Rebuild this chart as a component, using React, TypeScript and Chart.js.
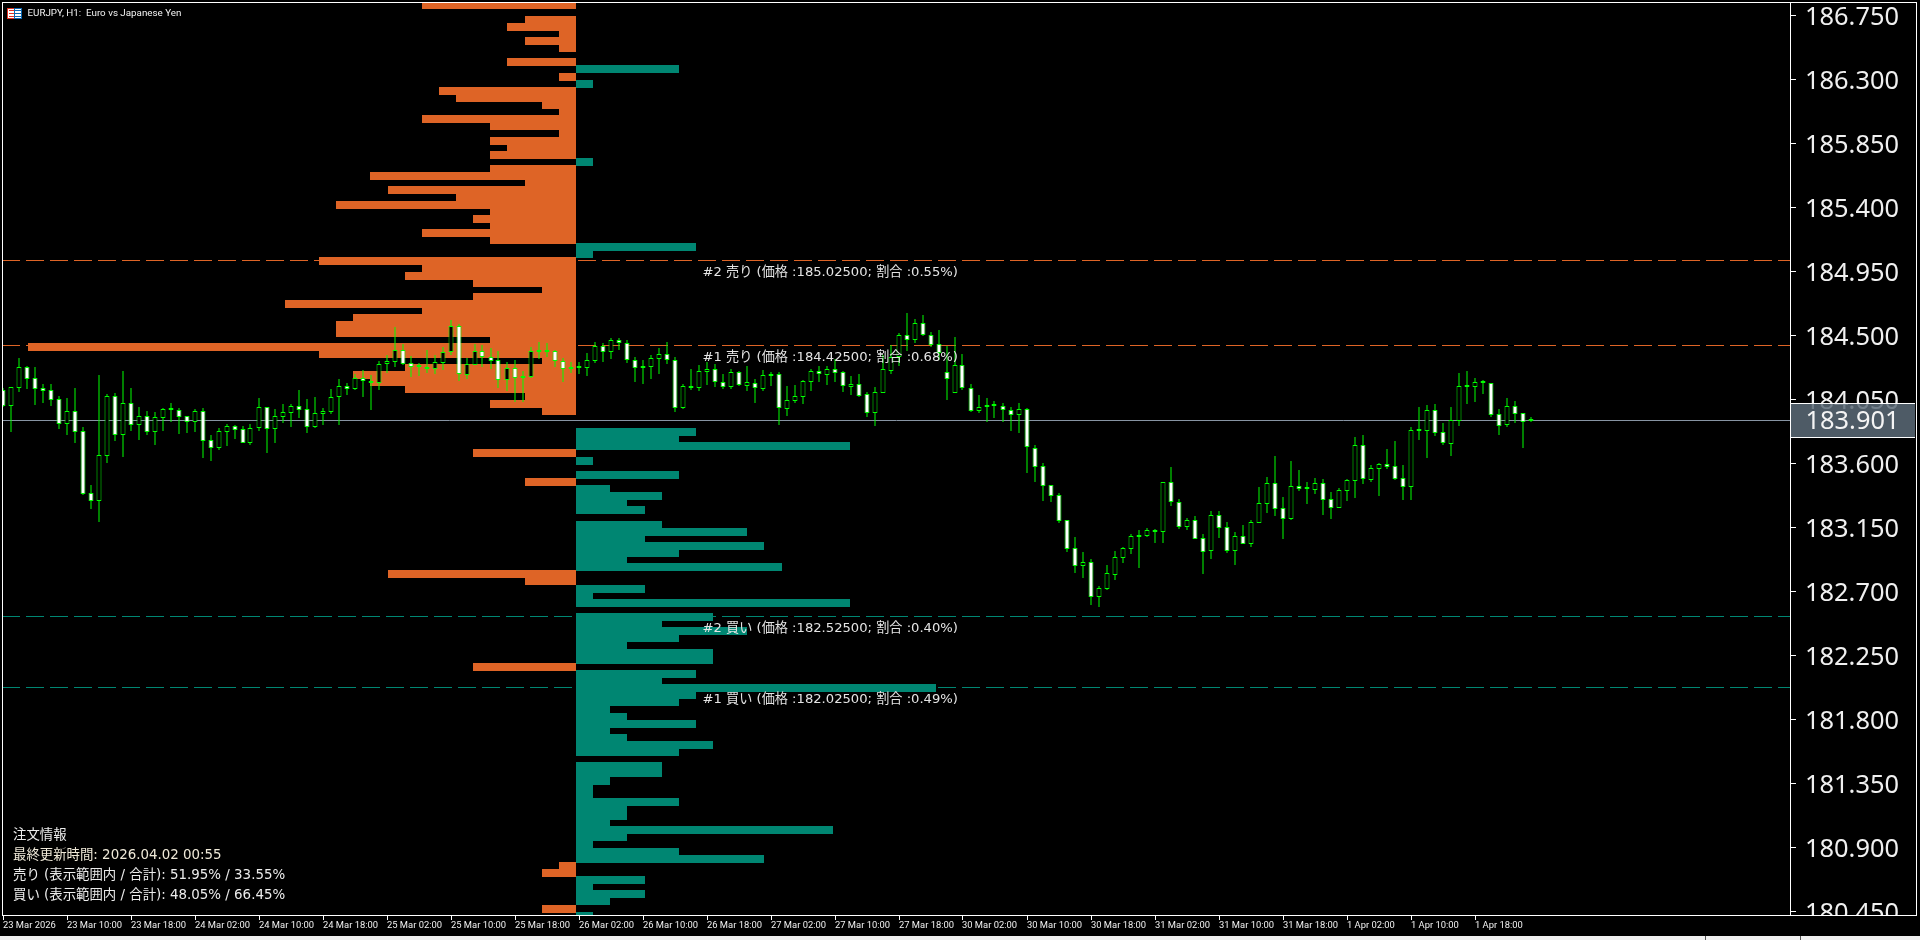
import React, { useEffect, useRef } from "react";
import { Chart, registerables, LinearScale } from "chart.js";

const opens = [184.115,184.005,184.132,184.275,184.197,184.127,184.113,184.049,183.878,183.965,183.824,183.388,183.337,183.653,184.071,183.801,184.021,183.871,183.930,183.822,183.921,183.972,183.972,183.930,183.892,183.965,183.761,183.710,183.822,183.860,183.839,183.745,183.850,183.993,183.843,183.928,183.956,184.000,183.979,183.857,183.949,183.963,184.068,184.141,184.124,184.197,184.167,184.167,184.296,184.314,184.399,184.303,184.275,184.265,184.265,184.307,184.380,184.563,184.223,184.293,184.387,184.350,184.324,184.183,184.272,184.197,184.209,184.385,184.385,184.387,184.317,184.260,184.267,184.272,184.321,184.422,184.385,184.464,184.448,184.328,184.267,184.279,184.335,184.366,184.328,183.991,184.132,184.132,184.244,184.260,184.174,184.134,184.239,184.146,184.162,184.124,184.216,184.225,183.984,184.040,184.068,184.174,184.246,184.223,184.260,184.239,184.139,184.155,184.085,183.956,184.096,184.249,184.345,184.500,184.467,184.584,184.500,184.439,184.239,184.096,184.289,184.132,183.970,183.998,184.000,184.005,183.977,183.942,183.979,183.705,183.578,183.445,183.374,183.200,183.003,182.881,182.904,182.663,182.719,182.817,182.937,183.000,183.085,183.089,183.120,183.120,183.467,183.326,183.155,183.200,183.073,182.986,183.235,183.150,182.986,183.087,183.035,183.183,183.317,183.460,183.284,183.211,183.439,183.418,183.415,183.460,183.347,183.289,183.408,183.478,183.727,183.486,183.563,183.593,183.579,183.495,183.436,183.830,183.830,183.973,183.818,183.739,183.900,184.135,184.139,184.163,184.163,183.945,183.872,184.001,183.952,183.896];
const highs = [184.127,184.134,184.338,184.284,184.275,184.157,184.157,184.073,184.059,184.129,183.855,183.447,184.221,184.087,184.094,184.249,184.129,183.996,183.967,183.960,183.989,184.024,183.986,183.935,183.982,183.989,183.799,183.848,183.876,183.867,183.862,183.876,184.059,183.998,183.982,184.017,184.019,184.115,184.052,184.066,183.989,184.122,184.192,184.162,184.228,184.256,184.221,184.319,184.359,184.556,184.439,184.354,184.305,184.396,184.359,184.420,184.607,184.579,184.338,184.439,184.429,184.410,184.389,184.312,184.326,184.249,184.420,184.453,184.446,184.396,184.338,184.314,184.312,184.375,184.453,184.443,184.478,184.483,184.464,184.350,184.326,184.359,184.410,184.453,184.345,184.157,184.260,184.291,184.312,184.298,184.228,184.263,184.251,184.284,184.192,184.256,184.242,184.242,184.143,184.150,184.188,184.260,184.284,184.282,184.331,184.251,184.214,184.228,184.099,184.134,184.361,184.429,184.514,184.657,184.614,184.643,184.523,184.537,184.425,184.485,184.366,184.155,184.080,184.059,184.038,184.024,183.996,184.024,183.986,183.728,183.602,183.445,183.393,183.200,183.082,182.977,182.925,182.738,182.885,182.984,183.012,183.103,183.132,183.146,183.136,183.467,183.575,183.350,183.216,183.230,183.103,183.265,183.265,183.188,183.118,183.167,183.202,183.434,183.504,183.652,183.364,183.617,183.553,183.469,183.497,183.490,183.399,183.427,183.490,183.786,183.800,183.589,183.603,183.701,183.757,183.589,183.856,183.996,184.011,184.018,183.884,183.996,184.236,184.250,184.200,184.186,184.163,183.982,184.060,184.039,183.952,183.926];
const lows = [183.998,183.822,184.103,184.122,184.010,184.026,184.003,183.841,183.799,183.742,183.377,183.278,183.187,183.602,183.756,183.644,183.827,183.764,183.799,183.728,183.827,183.890,183.806,183.813,183.820,183.637,183.616,183.693,183.721,183.771,183.740,183.728,183.827,183.672,183.742,183.883,183.855,183.918,183.813,183.848,183.869,183.946,183.869,184.080,184.115,184.066,183.974,184.115,184.235,184.277,184.291,184.207,184.216,184.232,184.230,184.258,184.361,184.181,184.195,184.289,184.277,184.260,184.132,184.108,184.033,184.033,184.197,184.331,184.345,184.277,184.174,184.235,184.230,184.214,184.305,184.312,184.333,184.396,184.305,184.169,184.157,184.192,184.228,184.298,183.963,183.979,184.115,184.108,184.150,184.136,184.122,184.122,184.143,184.106,184.024,184.110,184.143,183.869,183.932,184.024,184.017,184.106,184.171,184.150,184.169,184.101,184.080,184.068,183.923,183.862,184.096,184.228,184.286,184.389,184.446,184.495,184.420,184.326,184.045,184.096,184.115,183.963,183.953,183.890,183.918,183.890,183.827,183.810,183.531,183.468,183.335,183.328,183.182,182.977,182.829,182.794,182.604,182.590,182.710,182.780,182.899,182.963,182.864,183.082,183.040,183.040,183.300,183.139,183.132,183.071,182.822,182.928,183.075,182.970,182.885,183.033,183.012,183.183,183.251,183.230,183.068,183.202,183.406,183.314,183.385,183.237,183.209,183.289,183.336,183.357,183.455,183.469,183.371,183.561,183.483,183.343,183.343,183.764,183.638,183.793,183.729,183.652,183.863,184.018,184.032,184.088,183.926,183.800,183.856,183.884,183.708,183.891];
const closes = [184.005,184.134,184.275,184.195,184.124,184.110,184.047,183.878,183.965,183.822,183.386,183.337,183.656,184.071,183.801,184.021,183.871,183.930,183.822,183.923,183.979,183.979,183.928,183.892,183.965,183.759,183.710,183.824,183.860,183.836,183.745,183.846,183.993,183.843,183.930,183.958,184.000,183.977,183.857,183.951,183.965,184.068,184.141,184.124,184.197,184.181,184.174,184.296,184.317,184.399,184.300,184.279,184.284,184.270,184.310,184.380,184.563,184.225,184.296,184.387,184.350,184.321,184.183,184.272,184.197,184.211,184.387,184.389,184.389,184.317,184.260,184.267,184.275,184.324,184.422,184.385,184.464,184.448,184.328,184.267,184.282,184.338,184.366,184.328,183.991,184.141,184.141,184.246,184.260,184.174,184.139,184.239,184.148,184.174,184.127,184.218,184.228,183.986,184.042,184.071,184.178,184.246,184.225,184.260,184.237,184.146,184.155,184.075,183.956,184.099,184.260,184.345,184.500,184.469,184.584,184.504,184.432,184.375,184.195,184.289,184.132,183.970,183.998,184.003,184.007,183.977,183.942,183.979,183.712,183.576,183.442,183.372,183.196,183.000,182.881,182.904,182.663,182.721,182.827,182.939,183.003,183.087,183.089,183.129,183.132,183.467,183.331,183.155,183.200,183.071,182.979,183.235,183.148,182.986,183.087,183.035,183.185,183.319,183.460,183.282,183.211,183.439,183.422,183.425,183.460,183.345,183.289,183.410,183.481,183.727,183.488,183.565,183.593,183.577,183.493,183.436,183.832,183.839,183.973,183.816,183.741,183.903,184.142,184.142,184.170,184.170,183.943,183.865,184.001,183.950,183.893,183.903];

const timeLabels = ["23 Mar 2026","23 Mar 10:00","23 Mar 18:00","24 Mar 02:00","24 Mar 10:00","24 Mar 18:00","25 Mar 02:00","25 Mar 10:00","25 Mar 18:00","26 Mar 02:00","26 Mar 10:00","26 Mar 18:00","27 Mar 02:00","27 Mar 10:00","27 Mar 18:00","30 Mar 02:00","30 Mar 10:00","30 Mar 18:00","31 Mar 02:00","31 Mar 10:00","31 Mar 18:00","1 Apr 02:00","1 Apr 10:00","1 Apr 18:00"];
const priceTicks = [186.75,186.3,185.85,185.4,184.95,184.5,184.05,183.6,183.15,182.7,182.25,181.8,181.35,180.9,180.45];

const binPrices = [186.825,186.775,186.725,186.675,186.625,186.575,186.525,186.475,186.425,186.375,186.325,186.275,186.225,186.175,186.125,186.075,186.025,185.975,185.925,185.875,185.825,185.775,185.725,185.675,185.625,185.575,185.525,185.475,185.425,185.375,185.325,185.275,185.225,185.175,185.125,185.075,185.025,184.975,184.925,184.875,184.825,184.775,184.725,184.675,184.625,184.575,184.525,184.475,184.425,184.375,184.325,184.275,184.225,184.175,184.125,184.075,184.025,183.975,183.925,183.875,183.825,183.775,183.725,183.675,183.625,183.575,183.525,183.475,183.425,183.375,183.325,183.275,183.225,183.175,183.125,183.075,183.025,182.975,182.925,182.875,182.825,182.775,182.725,182.675,182.625,182.575,182.525,182.475,182.425,182.375,182.325,182.275,182.225,182.175,182.125,182.075,182.025,181.975,181.925,181.875,181.825,181.775,181.725,181.675,181.625,181.575,181.525,181.475,181.425,181.375,181.325,181.275,181.225,181.175,181.125,181.075,181.025,180.975,180.925,180.875,180.825,180.775,180.725,180.675,180.625,180.575,180.525,180.475,180.425];
const sellVolume = [9,0,3,4,1,3,1,0,4,0,1,0,8,7,2,1,9,5,1,5,4,5,0,5,12,3,11,7,14,5,6,5,9,5,0,0,15,9,10,6,2,6,17,9,13,14,14,5,32,15,2,10,13,12,10,3,5,2,0,0,0,0,0,6,0,0,0,3,0,0,0,0,0,0,0,0,0,0,0,0,11,3,0,0,0,0,0,0,0,0,0,0,0,6,0,0,0,0,0,0,0,0,0,0,0,0,0,0,0,0,0,0,0,0,0,0,0,0,0,0,0,1,2,0,0,0,0,2,0];
const buyVolume = [0,0,0,0,0,0,0,0,0,6,0,1,0,0,0,0,0,0,0,0,0,0,1,0,0,0,0,0,0,0,0,0,0,0,7,1,0,0,0,0,0,0,0,0,0,0,0,0,0,0,0,0,0,0,0,0,0,0,0,0,7,6,16,0,1,0,6,0,2,5,3,4,0,5,10,4,11,6,3,12,0,0,4,1,16,0,8,5,10,6,3,8,8,0,7,5,21,7,6,2,3,7,2,3,8,6,0,5,5,2,1,1,6,3,3,2,15,3,1,6,11,0,0,4,1,4,2,0,1];

const levelPrices = [185.025,184.425,182.525,182.025];
const levelLabels = ["#2 売り (価格 :185.02500; 割合 :0.55%)","#1 売り (価格 :184.42500; 割合 :0.68%)","#2 買い (価格 :182.52500; 割合 :0.40%)","#1 買い (価格 :182.02500; 割合 :0.49%)"];
const levelIsSell = [true,true,false,false];
const bidPrice = 183.901;
const titleText = "EURJPY, H1:  Euro vs Japanese Yen";
const infoLines = ["注文情報","最終更新時間: 2026.04.02 00:55","売り (表示範囲内 / 合計): 51.95% / 33.55%","買い (表示範囲内 / 合計): 48.05% / 66.45%"];

const ORANGE = "#de6426";
const TEAL = "#008672";
const GREEN = "#00ff00";
const WHITE = "#ffffff";
const BID = "#8794a3";
const OVERLAY_FONT = "'DejaVu Sans','Noto Sans CJK JP'";

class SnapLinear extends LinearScale {
  static id = "snapLinear";
  static defaults = LinearScale.defaults;
  getPixelForValue(v: number) {
    const p = super.getPixelForValue(v);
    if (this.id === "yLine") return Math.floor(p) + 0.5;
    return Math.round(p);
  }
}
Chart.register(...registerables, SnapLinear);

const noPad = (s: any) => {
  s.paddingTop = 0;
  s.paddingBottom = 0;
  s.paddingLeft = 0;
  s.paddingRight = 0;
};

const overlay = {
  id: "overlay",
  afterDraw(chart: any) {
    const { ctx, scales } = chart;
    const W = 1920;
    ctx.save();
    ctx.fillStyle = "#000";
    ctx.fillRect(1791, 916, 125, 20);
    ctx.fillStyle = "#f0f0f0";
    ctx.fillRect(0, 936, W, 4);
    ctx.fillStyle = "#555";
    ctx.fillRect(1705, 936, 1, 4);
    ctx.fillRect(1800, 936, 1, 4);
    ctx.fillStyle = WHITE;
    ctx.fillRect(2, 2, 1915, 1);
    ctx.fillRect(2, 2, 1, 914);
    ctx.fillRect(1916, 2, 1, 914);
    ctx.fillRect(1790, 2, 1, 914);
    ctx.fillRect(2, 915, 1915, 1);
    ctx.fillStyle = "rgba(92,107,120,0.85)";
    ctx.fillRect(1791, 404, 124, 33);
    ctx.fillStyle = WHITE;
    ctx.fillRect(1791, 403, 124, 1);
    ctx.fillRect(1791, 437, 124, 1);
    ctx.fillStyle = "#f4f4f4";
    ctx.font = "25.4px 'Noto Sans'";
    ctx.textBaseline = "middle";
    ctx.textAlign = "left";
    ctx.fillText(bidPrice.toFixed(3), 1805.5, 422);
    ctx.fillStyle = "#e03020";
    ctx.fillRect(7, 8, 7, 11);
    ctx.fillStyle = "#fff";
    ctx.fillRect(8, 9, 6, 9);
    ctx.fillStyle = "#e03020";
    ctx.fillRect(9, 10, 5, 1); ctx.fillRect(9, 13, 5, 1); ctx.fillRect(9, 16, 5, 1);
    ctx.fillStyle = "#0a66b0";
    ctx.fillRect(14, 8, 8, 11);
    ctx.fillStyle = "#fff";
    ctx.fillRect(15, 9, 6, 9);
    ctx.fillStyle = "#0a66b0";
    ctx.fillRect(15, 10, 6, 1); ctx.fillRect(15, 13, 6, 1); ctx.fillRect(15, 16, 6, 1);
    ctx.fillStyle = "#f2f2f2";
    ctx.font = "9.8px Roboto";
    ctx.fillText(titleText, 27.5, 14);
    ctx.font = "13.15px " + OVERLAY_FONT;
    ctx.fillStyle = "#e4e4e4";
    levelPrices.forEach((p, i) => {
      const y = scales.yLine.getPixelForValue(p);
      ctx.fillText(levelLabels[i], 702.5, y + 12);
    });
    ctx.font = "13.4px " + OVERLAY_FONT;
    infoLines.forEach((t, i) => {
      ctx.fillStyle = i === 1 ? "#efe9d8" : "#ececec";
      ctx.fillText(t, 13, 835.5 + i * 20);
    });
    ctx.restore();
  },
};

export default function App() {
  const ref = useRef<HTMLCanvasElement | null>(null);
  useEffect(() => {
    document.body.style.margin = "0";
    document.body.style.background = "#000";
    const idx = opens.map((_, i) => i);
    const volData = (arr: number[], sign: number) =>
      arr.map((u, i) => ({ x: sign * u, y: binPrices[i] })).filter((d) => d.x !== 0);
    const xMin = 0.0625;
    const xMax = xMin + 1787 / 8;
    const yMin = 180.4239;
    const yMax = 186.8365;
    const vMin = -573 / 17.13;
    const vMax = vMin + 1787 / 17.13;
    const barShift = 0.006;
    const barCommon = { type: "bar", grouped: false, inflateAmount: 0, borderSkipped: false };
    const hLine = (p: number, color: string, dash: number[]) => ({
      type: "line",
      xAxisID: "x",
      yAxisID: "yLine",
      data: [{ x: xMin, y: p }, { x: xMax, y: p }],
      borderColor: color,
      borderWidth: 1,
      borderDash: dash,
      borderDashOffset: 1,
      pointRadius: 0,
      fill: false,
      tension: 0,
    });
    const chart = new Chart(ref.current as HTMLCanvasElement, {
      type: "bar",
      data: {
        datasets: [
          {
            ...barCommon,
            xAxisID: "x",
            yAxisID: "y",
            barThickness: 5,
            minBarLength: 2,
            borderWidth: 1,
            borderColor: GREEN,
            backgroundColor: idx.map((i) => (closes[i] < opens[i] ? WHITE : "#000000")),
            data: idx.map((i) => ({ x: i, y: [Math.min(opens[i], closes[i]), Math.max(opens[i], closes[i])] })),
          },
          {
            ...barCommon,
            xAxisID: "x",
            yAxisID: "y",
            barThickness: 1,
            borderWidth: 0,
            backgroundColor: GREEN,
            data: idx.map((i) => ({ x: i, y: [lows[i], highs[i]] })),
          },
          hLine(bidPrice, BID, []),
          {
            ...barCommon,
            indexAxis: "y",
            xAxisID: "xVol",
            yAxisID: "yBar",
            barThickness: 8,
            borderWidth: 0,
            backgroundColor: ORANGE,
            data: volData(sellVolume, -1),
          },
          {
            ...barCommon,
            indexAxis: "y",
            xAxisID: "xVol",
            yAxisID: "yBar",
            barThickness: 8,
            borderWidth: 0,
            backgroundColor: TEAL,
            data: volData(buyVolume, 1),
          },
          ...levelPrices.map((p, i) => hLine(p, levelIsSell[i] ? ORANGE : TEAL, [18, 6])),
        ] as any,
      },
      options: {
        responsive: false,
        animation: false,
        devicePixelRatio: 1,
        events: [],
        layout: { padding: { left: 3, top: 3, right: 0, bottom: 0 } },
        plugins: { legend: { display: false }, tooltip: { enabled: false } },
        scales: {
          x: {
            type: "snapLinear",
            position: "bottom",
            offset: false,
            min: xMin,
            max: xMax,
            afterBuildTicks: (s: any) => {
              s.ticks = timeLabels.map((_, i) => ({ value: i * 8 }));
            },
            afterFit: (s: any) => {
              s.height = 25;
              noPad(s);
            },
            grid: { offset: false, drawOnChartArea: false, drawTicks: true, tickLength: 5, tickColor: WHITE },
            border: { display: false },
            ticks: {
              autoSkip: false,
              maxRotation: 0,
              minRotation: 0,
              align: "start",
              padding: 0,
              color: "#f0f0f0",
              font: { family: "Roboto", size: 9.4 },
              callback: (_: any, i: number) => timeLabels[i],
            },
          },
          y: {
            type: "snapLinear",
            position: "right",
            offset: false,
            min: yMin,
            max: yMax,
            afterBuildTicks: (s: any) => {
              s.ticks = priceTicks.map((v) => ({ value: v }));
            },
            afterFit: (s: any) => {
              s.width = 130;
              noPad(s);
            },
            grid: { offset: false, drawOnChartArea: false, drawTicks: true, tickLength: 6, tickColor: WHITE },
            border: { display: false },
            ticks: {
              autoSkip: false,
              crossAlign: "near",
              padding: 9,
              labelOffset: 3,
              color: "#f0f0f0",
              font: { family: "'Noto Sans'", size: 25.4 },
              callback: (v: number) => Number(v).toFixed(3),
            },
          },
          yBar: { type: "snapLinear", display: false, offset: false, min: yMin + barShift, max: yMax + barShift, grid: { offset: false } },
          yLine: { type: "snapLinear", display: false, offset: false, min: yMin, max: yMax, grid: { offset: false } },
          xVol: { type: "snapLinear", display: false, offset: false, min: vMin, max: vMax, grid: { offset: false } },
        },
      } as any,
      plugins: [overlay],
    } as any);
    return () => chart.destroy();
  }, []);
  return (
    <div style={{ position: "fixed", left: 0, top: 0, width: 1920, height: 940, background: "#000" }}>
      <canvas ref={ref} width={1920} height={940} style={{ display: "block" }} />
    </div>
  );
}
